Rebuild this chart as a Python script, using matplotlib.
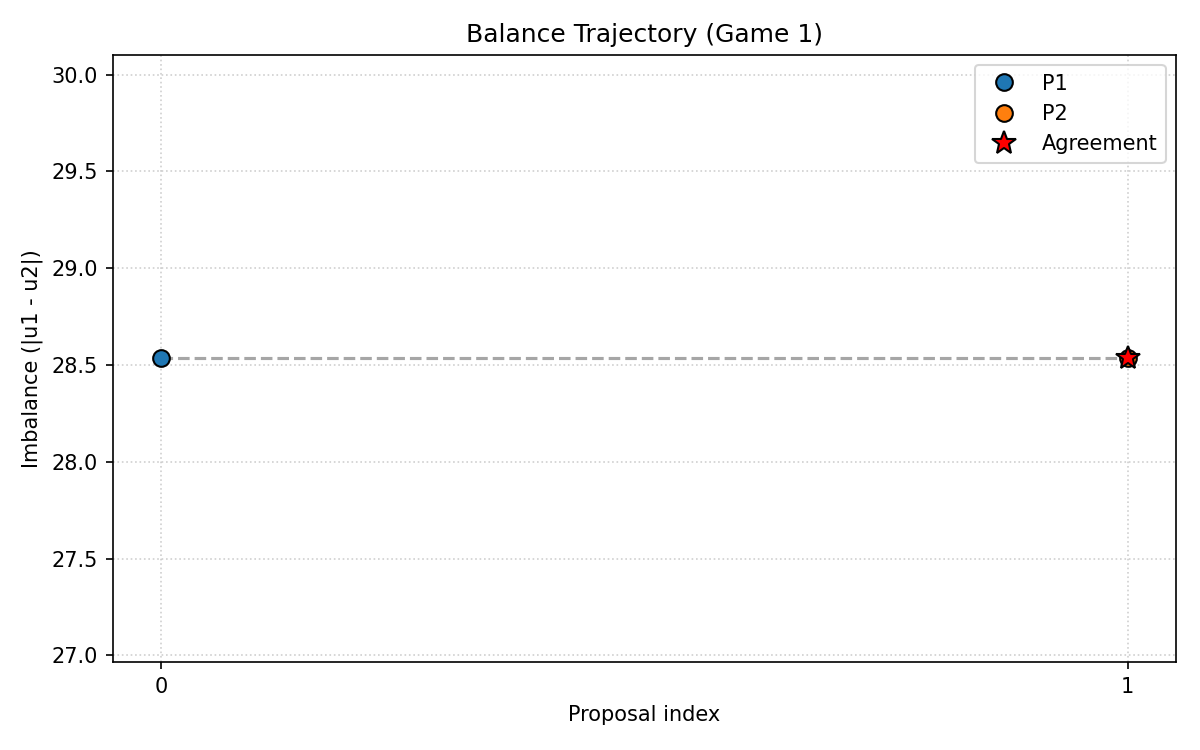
import matplotlib
matplotlib.use("Agg")
import matplotlib.pyplot as plt

idx = [0, 1]
imbalance = [28.535, 28.535]
p1_idx = [0]
p1_val = [28.535]
p2_idx = [1]
p2_val = [28.535]
agree_idx = [1]
agree_val = [28.535]

fig, ax = plt.subplots(figsize=(8, 5), dpi=150)
ax.plot(idx, imbalance, linestyle='--', color='gray', alpha=0.7, linewidth=1.5, zorder=1)
ax.plot(p1_idx, p1_val, 'o', markersize=8, color='#1f77b4', markeredgecolor='black', label='P1', zorder=3)
ax.plot(p2_idx, p2_val, 'o', markersize=8, color='#ff7f0e', markeredgecolor='black', label='P2', zorder=3)
ax.plot(agree_idx, agree_val, '*', markersize=12, color='red', markeredgecolor='black', label='Agreement', zorder=4)
ax.set_ylim(26.964, 30.103)
ax.set_xticks([0, 1])
ax.set_xlabel('Proposal index')
ax.set_ylabel('Imbalance (|u1 - u2|)')
ax.set_title('Balance Trajectory (Game 1)', fontsize=12)
ax.grid(True, linestyle=':', alpha=0.6)
ax.legend(loc='upper right')
fig.subplots_adjust(left=0.094, right=0.98, top=0.927, bottom=0.117)
fig.savefig('out.png')
